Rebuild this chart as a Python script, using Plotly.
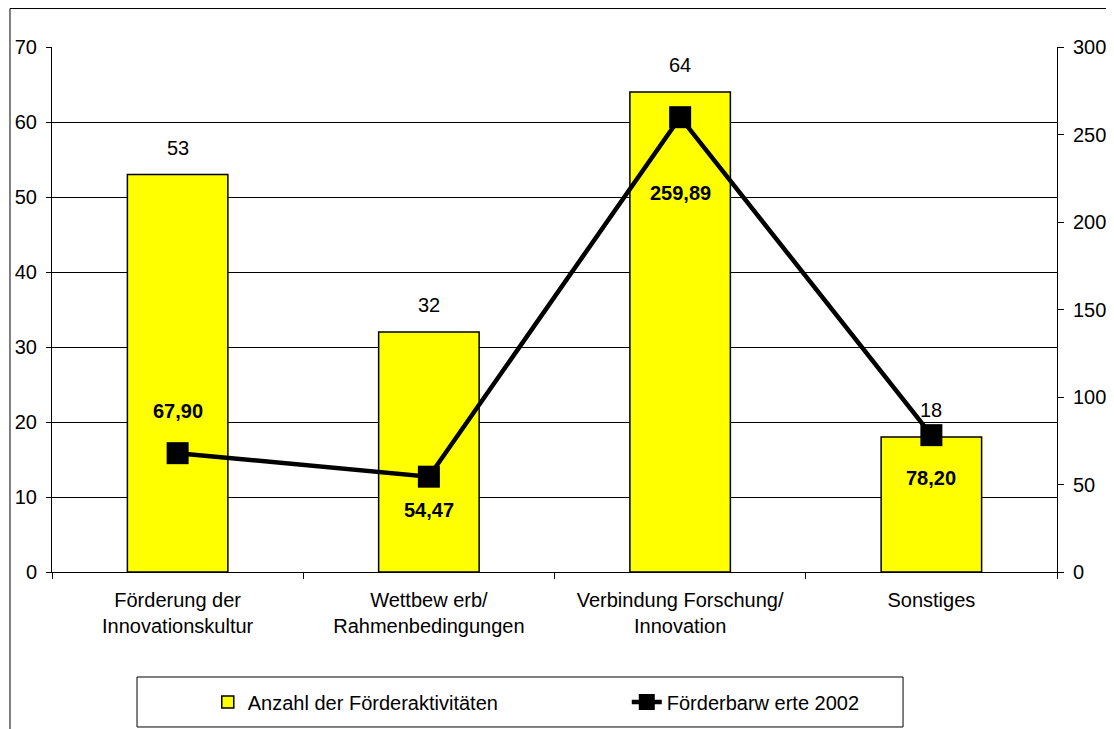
import plotly.graph_objects as go

categories = [
    "Förderung der<br>Innovationskultur",
    "Wettbew erb/<br>Rahmenbedingungen",
    "Verbindung Forschung/<br>Innovation",
    "Sonstiges",
]
anzahl = [53, 32, 64, 18]
barwerte = [67.90, 54.47, 259.89, 78.20]

left_ticks = [0, 10, 20, 30, 40, 50, 60, 70]
right_ticks = [0, 50, 100, 150, 200, 250, 300]

# vertical offsets (px) of the bold line labels, as in the original
line_label_shift = [42, -33, -76, -43]

FONT = "Liberation Sans, Arial, sans-serif"

fig = go.Figure()
fig.add_trace(
    go.Bar(
        x=categories,
        y=anzahl,
        name="Anzahl der Förderaktivitäten",
        marker=dict(color="#FFFF00", line=dict(color="black", width=1.5)),
        yaxis="y",
    )
)
fig.add_trace(
    go.Scatter(
        x=categories,
        y=barwerte,
        name="Förderbarw erte 2002",
        mode="lines+markers",
        line=dict(color="black", width=4.5),
        marker=dict(symbol="square", size=22, color="black"),
        yaxis="y2",
    )
)

annotations = []
for cat, val in zip(categories, anzahl):
    annotations.append(
        dict(x=cat, y=val, xref="x", yref="y", text=str(val), showarrow=False,
             yanchor="middle", yshift=27, font=dict(size=20, color="black"))
    )
for cat, val, shift in zip(categories, barwerte, line_label_shift):
    annotations.append(
        dict(x=cat, y=val, xref="x", yref="y2", text=f"<b>{val:.2f}</b>".replace(".", ","),
             showarrow=False, yanchor="middle", yshift=shift, font=dict(size=20, color="black"))
    )

# page body has an 8px margin; the figure runs a little past the window bottom
# so the legend does not push the plot margins
fig.update_layout(
    width=1106,
    height=760,
    margin=dict(l=44, r=57, t=39, b=196, autoexpand=False),
    paper_bgcolor="white",
    plot_bgcolor="white",
    font=dict(family=FONT, size=20, color="black"),
    bargap=0.6,
    showlegend=True,
    legend=dict(
        orientation="h",
        x=0.155,
        xanchor="left",
        y=-0.2476,
        yanchor="middle",
        borderwidth=0,
        bgcolor="rgba(0,0,0,0)",
        entrywidth=374,
        font=dict(size=20),
        traceorder="normal",
    ),
    xaxis=dict(
        showline=True,
        linecolor="black",
        linewidth=1,
        ticks="outside",
        tickson="boundaries",
        ticklen=6,
        tickcolor="black",
        tickfont=dict(size=20),
        ticklabelstandoff=10,
        showgrid=False,
        automargin=False,
    ),
    yaxis=dict(
        range=[0, 70],
        tickvals=left_ticks,
        showline=True,
        linecolor="black",
        linewidth=1,
        ticks="outside",
        ticklen=5,
        tickcolor="black",
        ticklabelstandoff=5,
        showgrid=True,
        gridcolor="black",
        gridwidth=1,
        zeroline=False,
        automargin=False,
    ),
    yaxis2=dict(
        range=[0, 300],
        tickvals=right_ticks,
        overlaying="y",
        side="right",
        showline=True,
        linecolor="black",
        linewidth=1,
        ticks="outside",
        ticklen=6,
        tickcolor="black",
        ticklabelstandoff=5,
        showgrid=False,
        zeroline=False,
        automargin=False,
    ),
    annotations=annotations,
    shapes=[
        dict(type="rect", xref="paper", yref="paper",
             x0=-0.0418, x1=1.0517, y0=-0.45, y1=1.0733,
             line=dict(color="black", width=1), fillcolor="rgba(0,0,0,0)", layer="below"),
        dict(type="rect", xref="paper", yref="paper",
             x0=0.0846, x1=0.8468, y0=-0.2952, y1=-0.2,
             line=dict(color="black", width=1), fillcolor="rgba(0,0,0,0)", layer="below"),
    ],
)

fig.write_html("out.html")
